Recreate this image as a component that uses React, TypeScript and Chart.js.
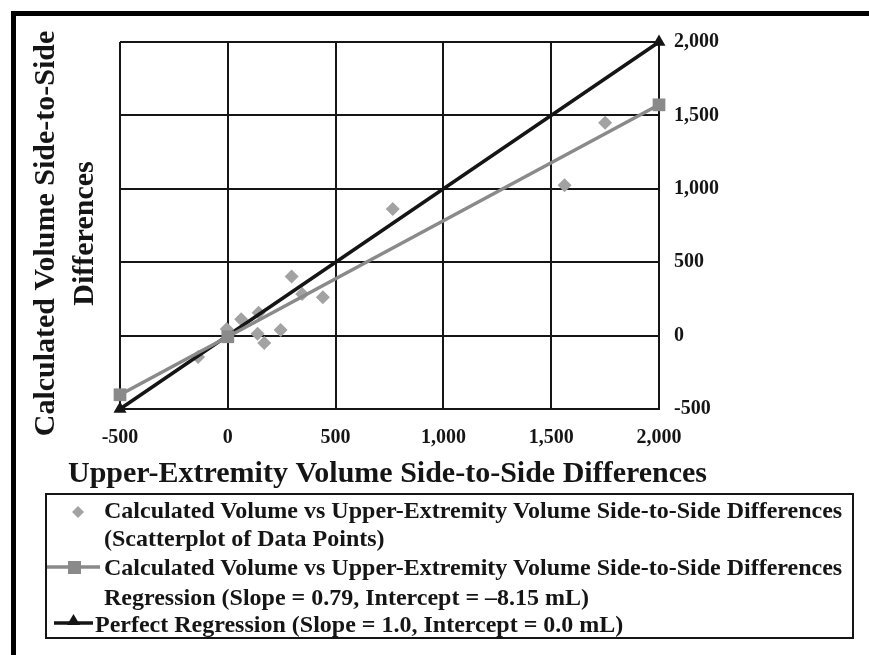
import React, { useEffect, useRef } from 'react';
import { Chart, registerables } from 'chart.js';

Chart.register(...registerables);

// ---- Data ----
const scatterX = [-138, -5, 62, 143, 138, 169, 245, 296, 345, 441, 765, 1562, 1750];
const scatterY = [-145, 45, 112, 155, 12, -50, 38, 402, 283, 262, 862, 1025, 1450];

const regressionX = [-500, 0, 2000];
const regressionY = [-403, -8, 1572];

const perfectX = [-500, 2000];
const perfectY = [-500, 2000];

const tickValues = [-500, 0, 500, 1000, 1500, 2000];
const tickLabels = ['-500', '0', '500', '1,000', '1,500', '2,000'];

const xTitle = 'Upper-Extremity Volume Side-to-Side Differences';
const yTitleLines = ['Calculated Volume Side-to-Side', 'Differences'];

const legendLine1 = 'Calculated Volume vs Upper-Extremity Volume Side-to-Side Differences';
const legendLine2 = '(Scatterplot of Data Points)';
const legendLine3 = 'Calculated Volume vs Upper-Extremity Volume Side-to-Side Differences';
const legendLine4 = 'Regression (Slope = 0.79, Intercept = \u20138.15 mL)';
const legendLine5 = 'Perfect Regression (Slope = 1.0, Intercept = 0.0 mL)';

const FONT = '"Liberation Serif", "Times New Roman", serif';
const INK = '#151515';
const DIAMOND = '#a2a2a2';
const REG = '#8a8a8a';

const toPoints = (xs: number[], ys: number[]) => xs.map((x, i) => ({ x, y: ys[i] }));

const titlePlugin = {
  id: 'axisTitles',
  afterDraw(chart: any) {
    const { ctx, chartArea } = chart;
    ctx.save();
    ctx.fillStyle = INK;
    ctx.font = `bold 30px ${FONT}`;
    ctx.textAlign = 'center';
    ctx.textBaseline = 'alphabetic';
    ctx.fillText(xTitle, (chartArea.left + chartArea.right) / 2 - 2, chartArea.bottom + 73);
    const cy = (chartArea.top + chartArea.bottom) / 2 + 8;
    yTitleLines.forEach((line, i) => {
      ctx.save();
      ctx.translate(chartArea.left - 66 + i * 39, cy);
      ctx.rotate(-Math.PI / 2);
      ctx.fillText(line, 0, 0);
      ctx.restore();
    });
    ctx.restore();
  },
};

const tickCallback = (v: any) => {
  const i = tickValues.indexOf(Number(v));
  return i >= 0 ? tickLabels[i] : '';
};

export default function App() {
  const canvasRef = useRef<HTMLCanvasElement>(null);

  useEffect(() => {
    if (!canvasRef.current) return;
    const chart = new Chart(canvasRef.current, {
      type: 'scatter',
      data: {
        datasets: [
          {
            label: 'scatter',
            data: toPoints(scatterX, scatterY),
            pointStyle: 'rectRot',
            pointRadius: 7,
            backgroundColor: DIAMOND,
            borderColor: DIAMOND,
            borderWidth: 0,
            showLine: false,
            clip: false,
            order: 3,
          },
          {
            label: 'perfect',
            data: toPoints(perfectX, perfectY),
            showLine: true,
            borderColor: INK,
            borderWidth: 3.5,
            pointStyle: 'triangle',
            pointRadius: 7.5,
            backgroundColor: INK,
            pointBorderWidth: 0,
            clip: false,
            order: 2,
          },
          {
            label: 'regression',
            data: toPoints(regressionX, regressionY),
            showLine: true,
            borderColor: REG,
            borderWidth: 3.5,
            pointStyle: 'rect',
            pointRadius: 9,
            backgroundColor: REG,
            pointBorderWidth: 0,
            clip: false,
            order: 1,
          },
        ],
      },
      options: {
        animation: false,
        responsive: false,
        maintainAspectRatio: false,
        layout: { padding: { top: 42, left: 120, right: 0, bottom: 0 } },
        plugins: {
          legend: { display: false },
          tooltip: { enabled: false },
        },
        scales: {
          x: {
            type: 'linear',
            position: 'bottom',
            min: -500,
            max: 2000,
            afterBuildTicks: (s: any) => {
              s.ticks = tickValues.map((value) => ({ value }));
            },
            afterFit: (s: any) => {
              s.height = 246;
            },
            grid: { color: INK, lineWidth: 2, drawTicks: false },
            border: { color: INK, width: 2 },
            ticks: {
              callback: tickCallback,
              color: INK,
              padding: 17,
              maxRotation: 0,
              autoSkip: false,
              font: { family: FONT, size: 20, weight: 'bold' },
            },
          },
          y: {
            type: 'linear',
            position: 'right',
            min: -500,
            max: 2000,
            afterBuildTicks: (s: any) => {
              s.ticks = tickValues.map((value) => ({ value }));
            },
            afterFit: (s: any) => {
              s.width = 210;
            },
            grid: { color: INK, lineWidth: 2, drawTicks: false },
            border: { color: INK, width: 2 },
            ticks: {
              callback: tickCallback,
              color: INK,
              padding: 15,
              autoSkip: false,
              font: { family: FONT, size: 20, weight: 'bold' },
            },
          },
        },
      },
      plugins: [titlePlugin],
    } as any);
    return () => chart.destroy();
  }, []);

  const textStyle: React.CSSProperties = {
    position: 'absolute',
    fontFamily: FONT,
    fontWeight: 'bold',
    fontSize: '24px',
    lineHeight: '28px',
    color: INK,
    whiteSpace: 'nowrap',
  };

  return (
    <div style={{ position: 'absolute', left: 0, top: 0, width: 869, height: 655, background: '#fff', overflow: 'hidden' }}>
      <canvas ref={canvasRef} width={869} height={655} style={{ position: 'absolute', left: 0, top: 0, width: 869, height: 655 }} />
      {/* frame */}
      <div style={{ position: 'absolute', left: 11, top: 11, width: 858, height: 5, background: '#000' }} />
      <div style={{ position: 'absolute', left: 11, top: 11, width: 5, height: 644, background: '#000' }} />
      {/* legend */}
      <div style={{ position: 'absolute', left: 45, top: 493, width: 809, height: 146, border: `2px solid ${INK}`, boxSizing: 'border-box' }} />
      <svg width={869} height={655} style={{ position: 'absolute', left: 0, top: 0 }}>
        <polygon points="78,506 84,512 78,518 72,512" fill={DIAMOND} />
        <line x1={47} y1={567} x2={100} y2={567} stroke={REG} strokeWidth={3.5} />
        <rect x={68} y={561} width={13} height={13} fill={REG} />
        <line x1={54} y1={623} x2={93} y2={623} stroke={INK} strokeWidth={3.5} />
        <polygon points="73.5,614 80,625 67,625" fill={INK} />
      </svg>
      <div style={{ ...textStyle, left: 104, top: 496 }}>{legendLine1}</div>
      <div style={{ ...textStyle, left: 104, top: 524 }}>{legendLine2}</div>
      <div style={{ ...textStyle, left: 104, top: 553 }}>{legendLine3}</div>
      <div style={{ ...textStyle, left: 104, top: 583 }}>{legendLine4}</div>
      <div style={{ ...textStyle, left: 95, top: 610 }}>{legendLine5}</div>
    </div>
  );
}
